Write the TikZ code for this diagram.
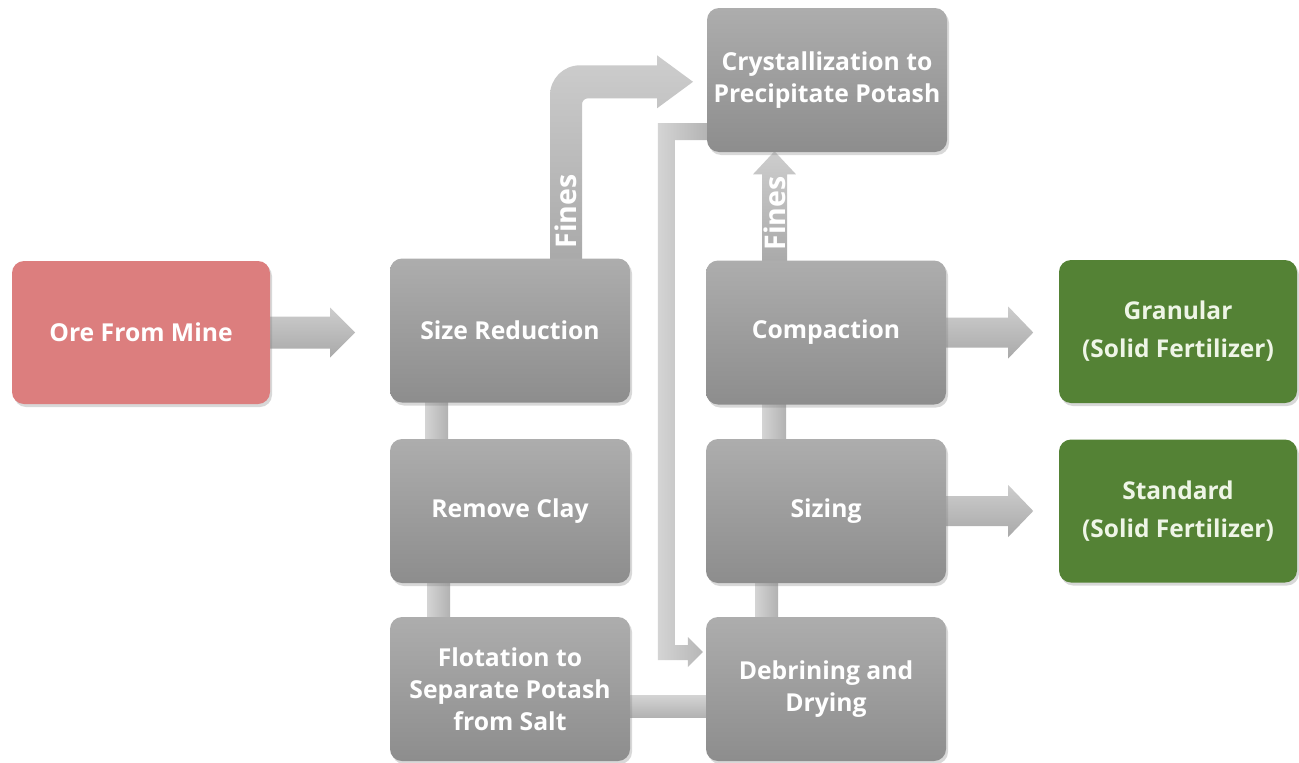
\documentclass[tikz,border=0pt]{standalone}
\usepackage{fontspec}
\setmainfont{Open Sans}
\usetikzlibrary{calc,shadows}
\pgfdeclarelayer{bg}
\pgfsetlayers{bg,main}
\definecolor{boxtop}{HTML}{ADADAD}
\definecolor{boxbot}{HTML}{8D8D8D}
\definecolor{orered}{HTML}{DC7E7E}
\definecolor{fertgreen}{HTML}{548235}
\definecolor{ferttext}{HTML}{EEF5E6}
\definecolor{connlight}{HTML}{D4D4D4}
\definecolor{conndark}{HTML}{B2B2B2}
\definecolor{arrlight}{HTML}{CDCDCD}
\definecolor{arrdark}{HTML}{A9A9A9}
\tikzset{
  box/.style={rectangle, rounded corners=12pt, minimum width=240pt, minimum height=144pt,
    align=center, text=white, inner sep=0pt,
    font=\bfseries\fontsize{24.7}{32}\selectfont,
    drop shadow={opacity=0.3, shadow xshift=2pt, shadow yshift=-3pt}},
  graybox/.style={box, top color=boxtop, bottom color=boxbot},
  orebox/.style={box, fill=orered, minimum width=258pt, minimum height=143pt},
  fertbox/.style={box, fill=fertgreen, text=ferttext, minimum width=238pt, minimum height=143pt,
    font=\bfseries\fontsize{24.5}{38}\selectfont},
  vbar/.style={left color=connlight, right color=conndark},
  hbar/.style={top color=connlight, bottom color=conndark},
  blockarrow/.style={top color=arrlight, bottom color=arrdark},
  finesarrow/.style={top color=arrlight, bottom color=arrdark},
  loopbar/.style={left color=connlight, right color=conndark},
  fineslabel/.style={text=white, inner sep=0pt, rotate=90,
    font=\bfseries\fontsize{28.5}{28.5}\selectfont}
}
\begin{document}
\begin{tikzpicture}[x=1pt,y=-1pt]
\useasboundingbox (0,0) rectangle (1299,763);

% boxes
\node[orebox]  (ore)    at (141,332.5) {Ore From Mine};
\node[graybox] (size)   at (510,330.5) {Size Reduction};
\node[graybox] (clay)   at (510,511)   {Remove Clay};
\node[graybox] (flot)   at (510,689)   {Flotation to\\Separate Potash\\from Salt};
\node[graybox] (cryst)  at (827,80)    {Crystallization to\\Precipitate Potash};
\node[graybox] (comp)   at (826,332.5) {Compaction};
\node[graybox] (sizing) at (826,511)   {Sizing};
\node[graybox] (debr)   at (826,689)   {Debrining and\\Drying};
\node[fertbox] (gran)   at (1178,331.5) {Granular\\(Solid Fertilizer)};
\node[fertbox] (stan)   at (1178,511)  {Standard\\(Solid Fertilizer)};

\begin{pgfonlayer}{bg}
\fill[white] (0,0) rectangle (1299,763);

% vertical connectors between boxes
\shade[vbar] ($(size.south)+(-85,-3)$) rectangle ($(clay.north)+(-62,3)$);
\shade[vbar] ($(clay.south)+(-83,-3)$) rectangle ($(flot.north)+(-60,3)$);
\shade[vbar] ($(comp.south)+(-64,-3)$) rectangle ($(sizing.north)+(-40,3)$);
\shade[vbar] ($(sizing.south)+(-71,-3)$) rectangle ($(debr.north)+(-48,3)$);
% flotation -> debrining
\shade[hbar] ($(flot.east)+(-3,6)$) rectangle ($(debr.west)+(3,28)$);

% block arrows
\begin{scope}[shift={(ore.east)}]
  \shade[blockarrow] (-3,-16) -- (60,-16) -- (60,-25) -- (85,0) -- (60,25) -- (60,16) -- (-3,16) -- cycle;
\end{scope}
\begin{scope}[shift={(comp.east)}]
  \shade[blockarrow] (-3,-15) -- (62,-15) -- (62,-26) -- (87,0) -- (62,26) -- (62,15) -- (-3,15) -- cycle;
\end{scope}
\begin{scope}[shift={(sizing.east)}]
  \shade[blockarrow] (-3,-15) -- (62,-15) -- (62,-26) -- (87,0) -- (62,26) -- (62,15) -- (-3,15) -- cycle;
\end{scope}

% Fines: size reduction -> crystallization
\begin{scope}[shift={(size.north)}]
  \shade[finesarrow] (40,3) -- (40,-163) .. controls (40,-179.6) and (53.4,-193) .. (70,-193)
    -- (147,-193) -- (147,-203) -- (183,-176.5) -- (147,-150) -- (147,-160) -- (78,-160)
    .. controls (74.7,-160) and (72,-157.3) .. (72,-154) -- (72,3) -- cycle;
  \node[fineslabel] (fines1) at (56,-47) {Fines};
\end{scope}

% Fines: compaction -> crystallization
\begin{scope}[shift={(comp.north)}]
  \shade[finesarrow] (-64,3) -- (-64,-86) -- (-73,-86) -- (-51.5,-109) -- (-30,-86) -- (-39,-86) -- (-39,3) -- cycle;
  \node[fineslabel] (fines2) at (-51.5,-47) {Fines};
\end{scope}

% crystallization -> debrining loop
\begin{scope}[shift={(cryst.west)}]
  \shade[loopbar] (3,43) -- (-49,43) -- (-49,580) -- (-19,580) -- (-19,587) -- (-4,572)
    -- (-19,557) -- (-19,565) -- (-32,565) -- (-32,60) -- (3,60) -- cycle;
\end{scope}
\end{pgfonlayer}
\end{tikzpicture}
\end{document}
